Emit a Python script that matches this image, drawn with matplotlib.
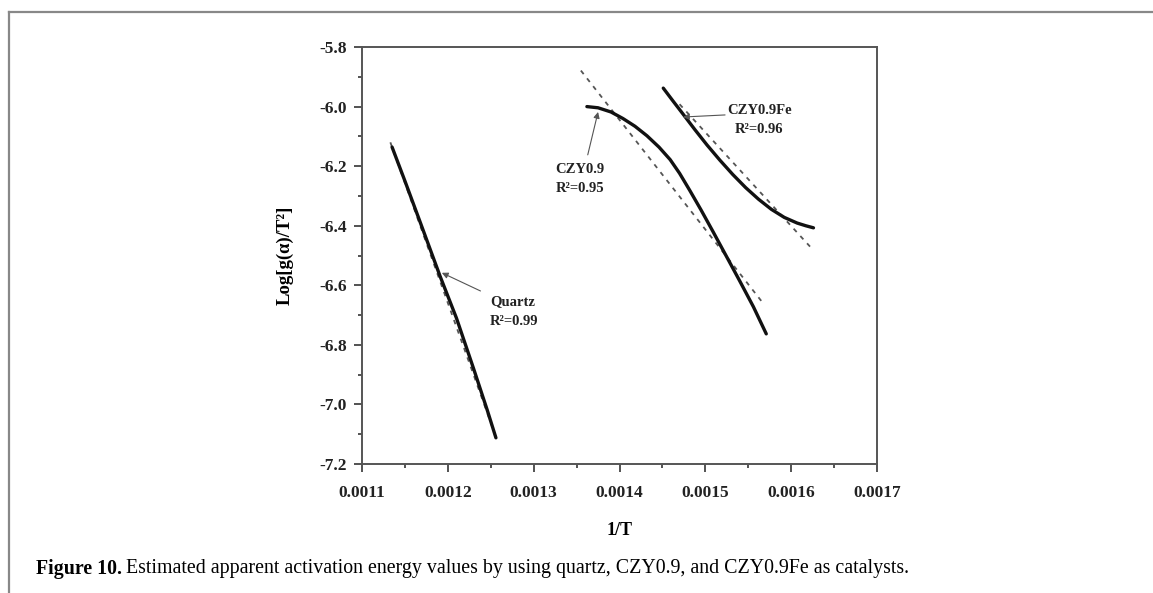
import matplotlib
matplotlib.use("Agg")
import matplotlib.pyplot as plt
from matplotlib.lines import Line2D

# data
quartz_x = [0.001135, 0.001150, 0.001168, 0.001191, 0.001210, 0.001230, 0.001246, 0.001256]
quartz_y = [-6.136, -6.250, -6.390, -6.570, -6.710, -6.880, -7.020, -7.112]
quartz_fit_x = [0.001133, 0.001256]
quartz_fit_y = [-6.120, -7.110]

czy_x = [0.001362, 0.001375, 0.001390, 0.001404, 0.001418, 0.001432, 0.001446, 0.001459,
         0.001470, 0.001482, 0.001495, 0.001509, 0.001525, 0.001540, 0.001556, 0.001571]
czy_y = [-6.000, -6.004, -6.018, -6.040, -6.066, -6.098, -6.136, -6.178,
         -6.224, -6.282, -6.347, -6.420, -6.505, -6.585, -6.672, -6.763]
czy_fit_x = [0.001355, 0.001567]
czy_fit_y = [-5.879, -6.659]

fe_x = [0.001451, 0.001462, 0.001474, 0.001488, 0.001502, 0.001517, 0.001532,
        0.001547, 0.001562, 0.001577, 0.001592, 0.001607, 0.001617, 0.001626]
fe_y = [-5.938, -5.980, -6.025, -6.078, -6.129, -6.180, -6.228,
        -6.272, -6.311, -6.345, -6.372, -6.391, -6.400, -6.407]
fe_fit_x = [0.001470, 0.001622]
fe_fit_y = [-5.992, -6.470]

xticks = [0.0011, 0.0012, 0.0013, 0.0014, 0.0015, 0.0016, 0.0017]
yticks = [-7.2, -7.0, -6.8, -6.6, -6.4, -6.2, -6.0, -5.8]

serif = "Liberation Serif"
fig = plt.figure(figsize=(11.53, 5.93), dpi=100)
ax = fig.add_axes([0.314, 0.2175, 0.4466, 0.7032])

for x, y in [(quartz_x, quartz_y), (czy_x, czy_y), (fe_x, fe_y)]:
    ax.plot(x, y, color="#111111", lw=2.4, solid_capstyle="round", solid_joinstyle="round", zorder=3)
for x, y in [(quartz_fit_x, quartz_fit_y), (czy_fit_x, czy_fit_y), (fe_fit_x, fe_fit_y)]:
    ax.plot(x, y, color="#555555", lw=1.3, dashes=(2.5, 3), zorder=2)

ax.set_xlim(0.0011, 0.0017)
ax.set_ylim(-7.2, -5.8)
ax.set_xticks(xticks)
ax.set_yticks(yticks)
ax.set_xticklabels([f"{v:.4f}" for v in xticks])
ax.set_yticklabels([f"{v:.1f}" for v in yticks])
ax.set_xticks([v + 0.00005 for v in xticks[:-1]], minor=True)
ax.set_yticks([v + 0.1 for v in yticks[:-1]], minor=True)
ax.tick_params(which="major", direction="out", length=6, width=1.3, color="#444444",
               top=False, right=False, pad=5)
ax.tick_params(axis="x", which="major", pad=9)
ax.tick_params(which="minor", direction="out", length=3, width=1.3, color="#444444",
               top=False, right=False)
for lab in ax.get_xticklabels() + ax.get_yticklabels():
    lab.set_fontfamily(serif)
    lab.set_fontweight("bold")
    lab.set_fontsize(12.5)
    lab.set_color("#222222")
for sp in ax.spines.values():
    sp.set_color("#555555")
    sp.set_linewidth(1.4)

ax.set_xlabel("1/T", fontfamily=serif, fontweight="bold", fontsize=13, labelpad=15)
ax.set_ylabel("Log[g(α)/T²]", fontfamily=serif, fontweight="bold", fontsize=13.5, labelpad=18)

arrow = dict(arrowstyle="-|>", color="#555555", lw=0.8, mutation_scale=9, shrinkA=0, shrinkB=0)
tkw = dict(fontfamily=serif, fontweight="bold", fontsize=10.5, color="#222222", linespacing=1.6)
ax.annotate("", xy=(0.001193, -6.558), xytext=(0.001238, -6.619), arrowprops=arrow)
ax.text(0.001249, -6.688, "Quartz\nR²=0.99", ha="left", va="center", **tkw)
ax.annotate("", xy=(0.001375, -6.018), xytext=(0.001363, -6.162), arrowprops=arrow)
ax.text(0.001354, -6.243, "CZY0.9\nR²=0.95", ha="center", va="center", **tkw)
ax.annotate("", xy=(0.001474, -6.035), xytext=(0.001523, -6.028), arrowprops=arrow)
ax.text(0.001563, -6.045, "CZY0.9Fe\nR²=0.96", ha="center", va="center", **tkw)

# page frame
fig.add_artist(Line2D([9 / 1153, 9 / 1153], [0, 1 - 12 / 593], color="#888888", lw=1.6))
fig.add_artist(Line2D([9 / 1153, 1], [1 - 12 / 593, 1 - 12 / 593], color="#888888", lw=1.6))

# caption
cap1 = fig.text(36 / 1153, 1 - 569 / 593, "Figure 10.", fontfamily=serif, fontweight="bold",
                fontsize=14.3, va="center", ha="left")
fig.canvas.draw()
bb = cap1.get_window_extent(fig.canvas.get_renderer())
fig.text((bb.x1 + 4) / 1153, 1 - 569 / 593,
         "Estimated apparent activation energy values by using quartz, CZY0.9, and CZY0.9Fe as catalysts.",
         fontfamily=serif, fontsize=14.3, va="center", ha="left")

fig.savefig("out.png", dpi=100)
